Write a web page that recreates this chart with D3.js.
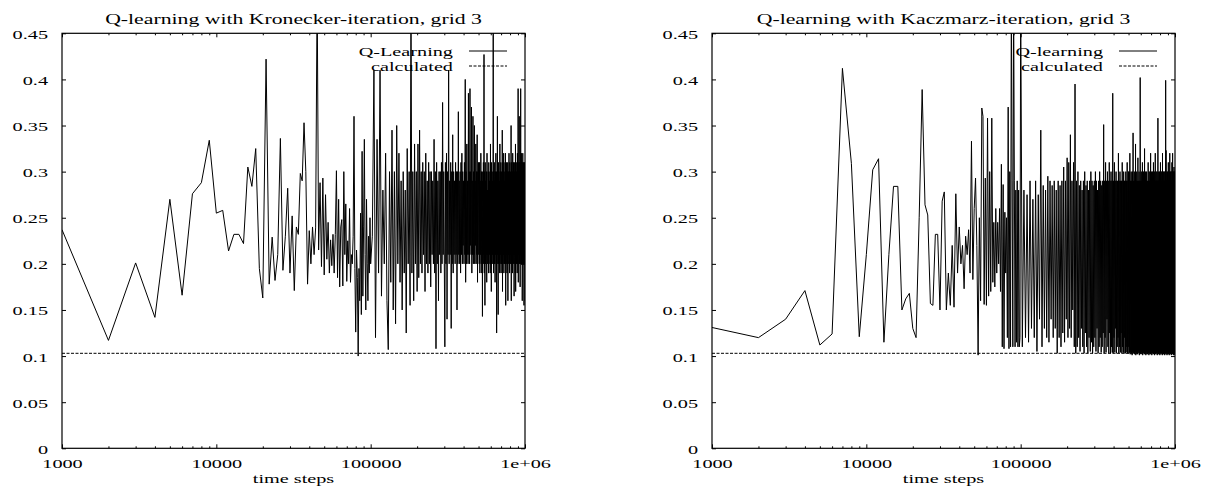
<!DOCTYPE html>
<html>
<head>
<meta charset="utf-8">
<script src="https://cdn.jsdelivr.net/npm/d3@7"></script>
<style>
  body { margin: 0; background: #fff; }
  svg { display: block; }
  text { font-family: "Liberation Serif", "DejaVu Serif", serif; fill: #000; }
</style>
</head>
<body>
<div id="chart"></div>
<script>
// time steps: a sample every 1000 steps up to 1e5, then read every 2500 steps
var stepsEarly = d3.range(1000, 100001, 1000);
var stepsLate = d3.range(102500, 1000001, 2500);

var kronEarly = [
  0.237, 0.117, 0.201, 0.142, 0.270, 0.166, 0.276, 0.288, 0.334, 0.255,
  0.258, 0.214, 0.232, 0.232, 0.222, 0.305, 0.284, 0.325, 0.195, 0.163,
  0.422, 0.178, 0.229, 0.182, 0.210, 0.336, 0.193, 0.230, 0.282, 0.190,
  0.252, 0.171, 0.240, 0.232, 0.298, 0.290, 0.353, 0.300, 0.178, 0.236,
  0.200, 0.240, 0.210, 0.239, 0.500, 0.215, 0.288, 0.197, 0.293, 0.188,
  0.275, 0.205, 0.245, 0.190, 0.226, 0.198, 0.232, 0.190, 0.232, 0.301,
  0.185, 0.270, 0.175, 0.240, 0.248, 0.176, 0.300, 0.210, 0.265, 0.181,
  0.225, 0.200, 0.260, 0.180, 0.210, 0.200, 0.230, 0.360, 0.195, 0.126,
  0.215, 0.185, 0.100, 0.195, 0.160, 0.255, 0.145, 0.322, 0.165, 0.240,
  0.335, 0.210, 0.150, 0.270, 0.200, 0.160, 0.230, 0.190, 0.250, 0.200
];
var kronLate = [
  0.230, 0.410, 0.120, 0.335, 0.190, 0.410, 0.165, 0.280, 0.200, 0.320,
  0.160, 0.107, 0.300, 0.180, 0.345, 0.150, 0.300, 0.135, 0.350, 0.200,
  0.320, 0.180, 0.290, 0.150, 0.300, 0.190, 0.280, 0.125, 0.325, 0.200,
  0.300, 0.155, 0.500, 0.190, 0.300, 0.160, 0.330, 0.200, 0.300, 0.170,
  0.330, 0.185, 0.345, 0.200, 0.300, 0.190, 0.310, 0.210, 0.300, 0.170,
  0.320, 0.200, 0.290, 0.190, 0.310, 0.200, 0.300, 0.175, 0.300, 0.210,
  0.290, 0.200, 0.335, 0.190, 0.300, 0.108, 0.310, 0.200, 0.290, 0.160,
  0.300, 0.210, 0.300, 0.190, 0.310, 0.200, 0.375, 0.210, 0.300, 0.200,
  0.110, 0.310, 0.200, 0.320, 0.140, 0.300, 0.210, 0.410, 0.200, 0.290,
  0.210, 0.310, 0.130, 0.300, 0.200, 0.340, 0.190, 0.300, 0.210, 0.290,
  0.200, 0.310, 0.210, 0.300, 0.150, 0.300, 0.200, 0.365, 0.210, 0.290,
  0.200, 0.300, 0.190, 0.310, 0.210, 0.320, 0.200, 0.300, 0.220, 0.290,
  0.200, 0.310, 0.210, 0.400, 0.180, 0.300, 0.200, 0.330, 0.210, 0.290,
  0.200, 0.385, 0.210, 0.300, 0.200, 0.390, 0.220, 0.300, 0.210, 0.370,
  0.190, 0.290, 0.210, 0.360, 0.200, 0.300, 0.210, 0.350, 0.200, 0.290,
  0.220, 0.330, 0.200, 0.300, 0.210, 0.340, 0.180, 0.300, 0.210, 0.310,
  0.300, 0.200, 0.310, 0.190, 0.290, 0.210, 0.320, 0.200, 0.300, 0.190,
  0.290, 0.143, 0.300, 0.210, 0.310, 0.200, 0.427, 0.190, 0.300, 0.155,
  0.310, 0.200, 0.290, 0.210, 0.300, 0.180, 0.320, 0.200, 0.280, 0.210,
  0.300, 0.190, 0.310, 0.200, 0.290, 0.210, 0.300, 0.190, 0.330, 0.200,
  0.290, 0.170, 0.310, 0.200, 0.300, 0.210, 0.290, 0.200, 0.500, 0.190,
  0.300, 0.210, 0.310, 0.200, 0.290, 0.180, 0.300, 0.210, 0.320, 0.200,
  0.300, 0.125, 0.290, 0.200, 0.360, 0.210, 0.300, 0.145, 0.310, 0.200,
  0.300, 0.210, 0.290, 0.190, 0.330, 0.200, 0.300, 0.210, 0.310, 0.190,
  0.300, 0.200, 0.290, 0.210, 0.345, 0.170, 0.310, 0.200, 0.300, 0.210,
  0.320, 0.190, 0.300, 0.200, 0.290, 0.210, 0.310, 0.200, 0.320, 0.155,
  0.300, 0.200, 0.310, 0.210, 0.290, 0.190, 0.300, 0.200, 0.310, 0.160,
  0.290, 0.210, 0.300, 0.200, 0.320, 0.210, 0.300, 0.190, 0.310, 0.200,
  0.300, 0.210, 0.290, 0.200, 0.350, 0.160, 0.310, 0.210, 0.300, 0.200,
  0.290, 0.190, 0.320, 0.210, 0.300, 0.200, 0.310, 0.210, 0.290, 0.165,
  0.300, 0.210, 0.310, 0.200, 0.290, 0.190, 0.330, 0.170, 0.300, 0.210,
  0.310, 0.200, 0.290, 0.210, 0.300, 0.190, 0.320, 0.200, 0.300, 0.210,
  0.390, 0.180, 0.300, 0.210, 0.310, 0.200, 0.360, 0.210, 0.300, 0.200,
  0.310, 0.175, 0.290, 0.210, 0.390, 0.200, 0.300, 0.210, 0.320, 0.200,
  0.300, 0.210, 0.310, 0.160, 0.290, 0.200, 0.320, 0.210, 0.300, 0.200,
  0.310, 0.210, 0.290, 0.155, 0.300, 0.200, 0.310, 0.210, 0.300, 0.160
];

var kaczEarly = [
  0.131, 0.120, 0.140, 0.171, 0.112, 0.124, 0.412, 0.309, 0.121, 0.210,
  0.302, 0.314, 0.115, 0.210, 0.284, 0.284, 0.150, 0.162, 0.168, 0.130,
  0.120, 0.250, 0.389, 0.264, 0.253, 0.157, 0.155, 0.232, 0.232, 0.150,
  0.268, 0.278, 0.150, 0.190, 0.155, 0.220, 0.153, 0.276, 0.190, 0.240,
  0.200, 0.220, 0.173, 0.230, 0.210, 0.237, 0.190, 0.333, 0.183, 0.260,
  0.293, 0.220, 0.101, 0.250, 0.160, 0.369, 0.360, 0.156, 0.293, 0.155,
  0.358, 0.165, 0.300, 0.170, 0.358, 0.180, 0.245, 0.175, 0.260, 0.190,
  0.245, 0.200, 0.260, 0.170, 0.308, 0.110, 0.286, 0.108, 0.256, 0.190,
  0.250, 0.120, 0.370, 0.108, 0.300, 0.110, 0.500, 0.290, 0.110, 0.500,
  0.290, 0.110, 0.280, 0.115, 0.290, 0.110, 0.280, 0.110, 0.120, 0.500
];
var kaczLate = [
  0.110, 0.280, 0.120, 0.275, 0.115, 0.290, 0.130, 0.270, 0.120, 0.290,
  0.105, 0.275, 0.140, 0.345, 0.110, 0.285, 0.130, 0.280, 0.120, 0.295,
  0.115, 0.290, 0.140, 0.285, 0.120, 0.290, 0.130, 0.280, 0.103, 0.290,
  0.120, 0.285, 0.110, 0.290, 0.125, 0.305, 0.115, 0.290, 0.140, 0.315,
  0.120, 0.310, 0.130, 0.340, 0.120, 0.290, 0.150, 0.310, 0.110, 0.395,
  0.103, 0.290, 0.110, 0.300, 0.120, 0.285, 0.105, 0.290, 0.130, 0.280,
  0.110, 0.290, 0.103, 0.300, 0.125, 0.285, 0.110, 0.290, 0.103, 0.280,
  0.120, 0.290, 0.105, 0.300, 0.115, 0.290, 0.103, 0.285, 0.110, 0.290,
  0.120, 0.300, 0.105, 0.290, 0.130, 0.280, 0.103, 0.290, 0.110, 0.300,
  0.120, 0.290, 0.104, 0.285, 0.110, 0.290, 0.125, 0.351, 0.103, 0.290,
  0.120, 0.310, 0.104, 0.290, 0.140, 0.300, 0.110, 0.290, 0.103, 0.310,
  0.125, 0.290, 0.103, 0.300, 0.110, 0.290, 0.104, 0.385, 0.103, 0.290,
  0.120, 0.310, 0.104, 0.290, 0.130, 0.300, 0.103, 0.290, 0.110, 0.290,
  0.120, 0.320, 0.103, 0.290, 0.110, 0.300, 0.104, 0.290, 0.125, 0.290,
  0.103, 0.310, 0.110, 0.290, 0.104, 0.300, 0.103, 0.290, 0.120, 0.290,
  0.103, 0.300, 0.110, 0.290, 0.104, 0.310, 0.103, 0.290, 0.110, 0.300,
  0.103, 0.300, 0.104, 0.320, 0.102, 0.290, 0.104, 0.300, 0.103, 0.290,
  0.101, 0.300, 0.104, 0.342, 0.103, 0.290, 0.105, 0.300, 0.102, 0.290,
  0.104, 0.330, 0.101, 0.290, 0.103, 0.300, 0.104, 0.290, 0.102, 0.315,
  0.103, 0.290, 0.105, 0.300, 0.101, 0.290, 0.104, 0.402, 0.103, 0.290,
  0.102, 0.300, 0.104, 0.290, 0.103, 0.310, 0.101, 0.290, 0.104, 0.300,
  0.103, 0.290, 0.102, 0.325, 0.104, 0.290, 0.103, 0.300, 0.101, 0.290,
  0.104, 0.300, 0.103, 0.280, 0.102, 0.290, 0.104, 0.310, 0.103, 0.290,
  0.101, 0.300, 0.104, 0.290, 0.103, 0.300, 0.102, 0.320, 0.104, 0.290,
  0.103, 0.300, 0.101, 0.290, 0.104, 0.300, 0.103, 0.290, 0.102, 0.310,
  0.104, 0.290, 0.103, 0.300, 0.101, 0.290, 0.104, 0.320, 0.103, 0.290,
  0.102, 0.300, 0.104, 0.290, 0.103, 0.300, 0.101, 0.290, 0.104, 0.358,
  0.103, 0.290, 0.102, 0.300, 0.104, 0.290, 0.103, 0.300, 0.101, 0.290,
  0.104, 0.310, 0.103, 0.290, 0.102, 0.300, 0.104, 0.290, 0.103, 0.300,
  0.101, 0.320, 0.104, 0.290, 0.103, 0.300, 0.102, 0.290, 0.104, 0.300,
  0.103, 0.290, 0.101, 0.300, 0.104, 0.290, 0.103, 0.399, 0.102, 0.323,
  0.104, 0.290, 0.103, 0.300, 0.101, 0.290, 0.104, 0.300, 0.103, 0.290,
  0.102, 0.310, 0.104, 0.290, 0.103, 0.300, 0.101, 0.290, 0.104, 0.320,
  0.103, 0.290, 0.102, 0.300, 0.104, 0.290, 0.103, 0.300, 0.101, 0.290,
  0.104, 0.310, 0.103, 0.290, 0.102, 0.320, 0.104, 0.290, 0.103, 0.300,
  0.101, 0.290, 0.104, 0.305, 0.103, 0.290, 0.102, 0.300, 0.101, 0.290
];

var calculated = 0.103;

var xTicks = [1000, 10000, 100000, 1000000];
var xTickLabels = ["1000", "10000", "100000", "1e+06"];
var yTicks = [0, 0.05, 0.1, 0.15, 0.2, 0.25, 0.3, 0.35, 0.4, 0.45];
var yTickLabels = ["0", "0.05", "0.1", "0.15", "0.2", "0.25", "0.3", "0.35", "0.4", "0.45"];

var panels = [
  { title: "Q-learning with Kronecker-iteration, grid 3", key: "Q-Learning",
    early: kronEarly, late: kronLate, left: 62 },
  { title: "Q-learning with Kaczmarz-iteration, grid 3", key: "Q-learning",
    early: kaczEarly, late: kaczLate, left: 712 }
];

var W = 1205, H = 489;
var plotW = 463, plotTop = 33.3, plotBottom = 448.3;
var fs = 13.5, sx = 1.5; // the original postscript is stretched horizontally
var serif = "Liberation Serif, DejaVu Serif, serif";
var dash = "3,1.5";

var svg = d3.select("#chart").append("svg").attr("width", W).attr("height", H);

// minor ticks on the log axis: 2..9 in every decade
var minorTicks = [];
[1000, 10000, 100000].forEach(function (p) {
  for (var k = 2; k <= 9; k++) minorTicks.push(k * p);
});

function stretched(sel, x, y, anchor, size) {
  return sel.append("text")
    .attr("transform", "translate(" + x + "," + y + ") scale(" + sx + ",1)")
    .attr("text-anchor", anchor)
    .attr("font-family", serif)
    .attr("font-size", size || fs);
}

panels.forEach(function (p, pi) {
  var x = d3.scaleLog().domain([1000, 1000000]).range([p.left, p.left + plotW]);
  var y = d3.scaleLinear().domain([0, 0.45]).range([plotBottom, plotTop]);
  var g = svg.append("g");

  var pts = stepsEarly.map(function (s, i) { return [s, p.early[i]]; })
    .concat(stepsLate.map(function (s, i) { return [s, p.late[i]]; }));

  g.append("clipPath").attr("id", "clip" + pi)
    .append("rect").attr("x", p.left).attr("y", plotTop).attr("width", plotW).attr("height", plotBottom - plotTop);

  var line = d3.line().x(function (d) { return x(d[0]); }).y(function (d) { return y(d[1]); });

  g.append("path").datum(pts)
    .attr("clip-path", "url(#clip" + pi + ")")
    .attr("d", line)
    .attr("fill", "none").attr("stroke", "#000").attr("stroke-width", 1);

  g.append("line")
    .attr("x1", x(1000)).attr("x2", x(1000000))
    .attr("y1", y(calculated)).attr("y2", y(calculated))
    .attr("stroke", "#000").attr("stroke-width", 1).attr("stroke-dasharray", dash);

  // axes, ticks pointing inward on all four sides
  var xb = g.append("g").attr("transform", "translate(0," + plotBottom + ")")
    .call(d3.axisBottom(x).tickValues(xTicks).tickSizeInner(-4).tickSizeOuter(0)
      .tickFormat(function (d, i) { return xTickLabels[i]; }));
  xb.attr("font-family", serif).attr("font-size", fs);
  xb.selectAll("text").attr("y", 20).attr("dy", 0)
    .attr("transform", "scale(" + sx + ",1)");

  g.append("g").attr("transform", "translate(0," + plotBottom + ")")
    .call(d3.axisBottom(x).tickValues(minorTicks).tickSizeInner(-2).tickSizeOuter(0).tickFormat(""));
  g.append("g").attr("transform", "translate(0," + plotTop + ")")
    .call(d3.axisTop(x).tickValues(xTicks).tickSizeInner(-4).tickSizeOuter(0).tickFormat(""));
  g.append("g").attr("transform", "translate(0," + plotTop + ")")
    .call(d3.axisTop(x).tickValues(minorTicks).tickSizeInner(-2).tickSizeOuter(0).tickFormat(""));

  var yl = g.append("g").attr("transform", "translate(" + p.left + ",0)")
    .call(d3.axisLeft(y).tickValues(yTicks).tickSizeInner(-4).tickSizeOuter(0)
      .tickFormat(function (d, i) { return yTickLabels[i]; }));
  yl.attr("font-family", serif).attr("font-size", fs);
  yl.selectAll("text").attr("x", -14 / sx).attr("dy", 5)
    .attr("transform", "scale(" + sx + ",1)");
  g.append("g").attr("transform", "translate(" + (p.left + plotW) + ",0)")
    .call(d3.axisRight(y).tickValues(yTicks).tickSizeInner(-4).tickSizeOuter(0).tickFormat(""));

  g.selectAll(".domain").remove();
  g.selectAll(".tick line").attr("stroke", "#000");

  g.append("rect")
    .attr("x", p.left).attr("y", plotTop).attr("width", plotW).attr("height", plotBottom - plotTop)
    .attr("fill", "none").attr("stroke", "#000").attr("stroke-width", 1.2);

  stretched(g, p.left + plotW / 2, 23.5, "middle", 14.5).text(p.title);
  stretched(g, p.left + plotW / 2, 483, "middle").text("time steps");

  // key
  var kx = p.left + plotW;
  stretched(g, kx - 72, 55.5, "end").text(p.key);
  stretched(g, kx - 72, 70.5, "end").text("calculated");
  g.append("line").attr("x1", kx - 56).attr("x2", kx - 18).attr("y1", 51).attr("y2", 51)
    .attr("stroke", "#000").attr("stroke-width", 1);
  g.append("line").attr("x1", kx - 56).attr("x2", kx - 18).attr("y1", 66).attr("y2", 66)
    .attr("stroke", "#000").attr("stroke-width", 1).attr("stroke-dasharray", dash);
});
</script>
</body>
</html>
